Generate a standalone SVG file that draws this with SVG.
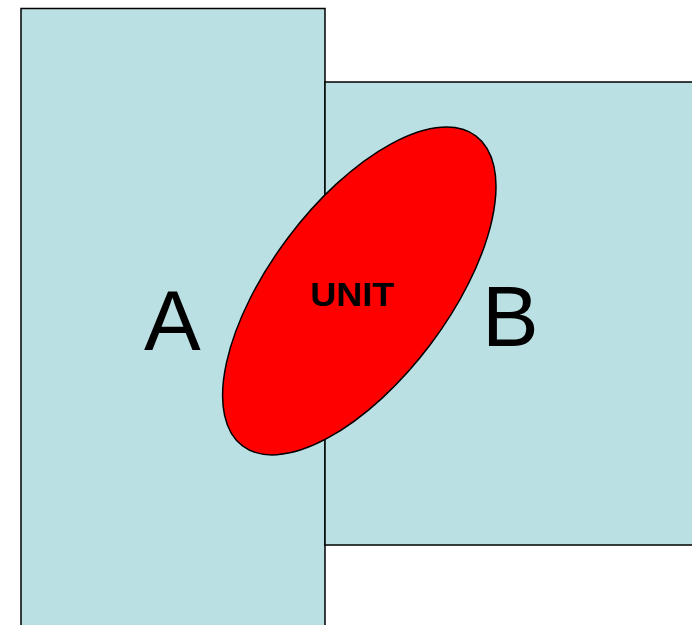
<svg xmlns="http://www.w3.org/2000/svg" width="692" height="625" viewBox="0 0 692 625">
<style>
.region{fill:#BBE0E3;stroke:#000;stroke-width:1.5}
.big{font-family:"Liberation Sans",Arial,sans-serif;font-size:85px;fill:#000}
.unit{font-family:"Liberation Sans",Arial,sans-serif;font-size:34px;font-weight:bold;fill:#000}
</style>
<rect width="692" height="625" fill="#fff"/>
<g id="regionA">
<rect class="region" x="21" y="8.5" width="304" height="630"/>
<text class="big" x="144" y="350">A</text>
</g>
<g id="regionB">
<rect class="region" x="325" y="82" width="380" height="463"/>
<text class="big" x="482" y="346">B</text>
</g>
<g id="unit">
<ellipse cx="359.3" cy="291" rx="194" ry="89" transform="rotate(-53 359.3 291)" fill="#FF0000" stroke="#000" stroke-width="1.5"/>
<text class="unit" x="352" y="306" text-anchor="middle" textLength="84" lengthAdjust="spacingAndGlyphs">UNIT</text>
</g>
<g id="connectors"/>
</svg>
